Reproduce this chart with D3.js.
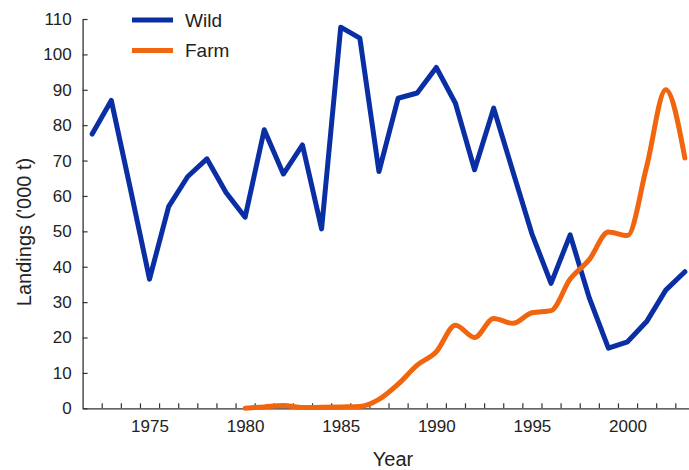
<!DOCTYPE html>
<html>
<head>
<meta charset="utf-8">
<script src="https://cdn.jsdelivr.net/npm/d3@7"></script>
<style>
  html, body { margin: 0; padding: 0; background: #fff; }
  svg { display: block; font-family: "Liberation Sans", Arial, sans-serif; }
</style>
</head>
<body>
<svg id="chart" width="689" height="470"></svg>
<script>
// ---- data ----
const wildYears = [1972,1973,1974,1975,1976,1977,1978,1979,1980,1981,1982,1983,1984,1985,1986,1987,1988,1989,1990,1991,1992,1993,1994,1995,1996,1997,1998,1999,2000,2001,2002,2003];
const wildValues = [77.5,87,62,36.5,57,65.5,70.5,61,54,78.7,66.2,74.4,50.7,107.7,104.6,66.9,87.6,89.1,96.3,86.2,67.4,84.8,67,49.3,35.3,49,31.2,17,18.8,24.5,33.4,38.6];
const farmYears = [1980,1981,1982,1983,1984,1985,1986,1987,1988,1989,1990,1991,1992,1993,1994,1995,1996,1997,1998,1999,2000,2001,2002,2003];
const farmValues = [0,0.4,0.8,0.2,0.3,0.4,0.5,2.5,6.8,12.2,16,23.5,20,25.4,24,27,27.6,36.5,42,49.8,48.8,68.3,90,70.7];
const seriesNames = ["Wild", "Farm"];
const yTicks = [0,10,20,30,40,50,60,70,80,90,100,110];
const xLabelYears = [1975,1980,1985,1990,1995,2000];
const xTickYears = d3.range(1972.5, 2003, 1);
const xTitle = "Year";
const yTitle = "Landings ('000 t)";

// ---- layout ----
const colors = { Wild: "#0a2ea3", Farm: "#f0650e" };
const axisColor = "#333";
const textColor = "#222";

const svg = d3.select("#chart");
const x = d3.scaleLinear().domain([1971.5, 2003.2]).range([82.6, 688.7]);
const y = d3.scaleLinear().domain([0, 110]).range([408.3, 19]);

// x axis: inward ticks at year boundaries
const xAxisG = svg.append("g").attr("transform", `translate(0,${y(0)})`)
  .call(d3.axisTop(x).tickValues(xTickYears).tickSize(5).tickSizeOuter(0).tickFormat(""));
xAxisG.select(".domain").attr("stroke", axisColor).attr("stroke-width", 1.3);
xAxisG.selectAll(".tick line").attr("stroke", axisColor).attr("stroke-width", 1.2);

// x labels at year centres
const xLabG = svg.append("g").attr("transform", `translate(0,${y(0)})`)
  .call(d3.axisBottom(x).tickValues(xLabelYears).tickSize(0).tickPadding(12).tickFormat(d3.format("d")));
xLabG.select(".domain").remove();
xLabG.selectAll("text").attr("font-size", 17).attr("fill", textColor).attr("font-family", "Liberation Sans, Arial, sans-serif");

// y axis: inward ticks
const yAxisG = svg.append("g").attr("transform", `translate(${x(1971.5)},0)`)
  .call(d3.axisRight(y).tickValues(yTicks).tickSize(5).tickSizeOuter(0).tickFormat(""));
yAxisG.select(".domain").attr("stroke", axisColor).attr("stroke-width", 1.3);
yAxisG.selectAll(".tick line").attr("stroke", axisColor).attr("stroke-width", 1.2);

const yLabG = svg.append("g").attr("transform", `translate(${x(1971.5)},0)`)
  .call(d3.axisLeft(y).tickValues(yTicks).tickSize(0).tickPadding(11).tickFormat(d3.format("d")));
yLabG.select(".domain").remove();
yLabG.selectAll("text").attr("font-size", 17).attr("fill", textColor).attr("font-family", "Liberation Sans, Arial, sans-serif");

// titles
svg.append("text").attr("x", 393).attr("y", 466).attr("text-anchor", "middle")
  .attr("font-size", 20).attr("fill", textColor).text(xTitle);
svg.append("text").attr("transform", "translate(31,232) rotate(-90)").attr("text-anchor", "middle")
  .attr("font-size", 20).attr("fill", textColor).text(yTitle);

// lines
const wildData = wildYears.map((yr, i) => ({ yr, v: wildValues[i] }));
const farmData = farmYears.map((yr, i) => ({ yr, v: farmValues[i] }));

const wildLine = d3.line().x(d => x(d.yr)).y(d => y(d.v));
const farmLine = d3.line().x(d => x(d.yr)).y(d => y(d.v)).curve(d3.curveMonotoneX);

svg.append("path").datum(wildData).attr("d", wildLine)
  .attr("fill", "none").attr("stroke", colors.Wild).attr("stroke-width", 5)
  .attr("stroke-linejoin", "round").attr("stroke-linecap", "round");
svg.append("path").datum(farmData).attr("d", farmLine)
  .attr("fill", "none").attr("stroke", colors.Farm).attr("stroke-width", 5)
  .attr("stroke-linejoin", "round").attr("stroke-linecap", "round");

// legend
const leg = svg.append("g");
seriesNames.forEach((name, i) => {
  const ly = 20 + i * 30.5;
  leg.append("line").attr("x1", 132).attr("x2", 173).attr("y1", ly).attr("y2", ly)
    .attr("stroke", colors[name]).attr("stroke-width", 5);
  leg.append("text").attr("x", 185).attr("y", ly + 6.5).attr("font-size", 19)
    .attr("fill", textColor).text(name);
});
</script>
</body>
</html>
